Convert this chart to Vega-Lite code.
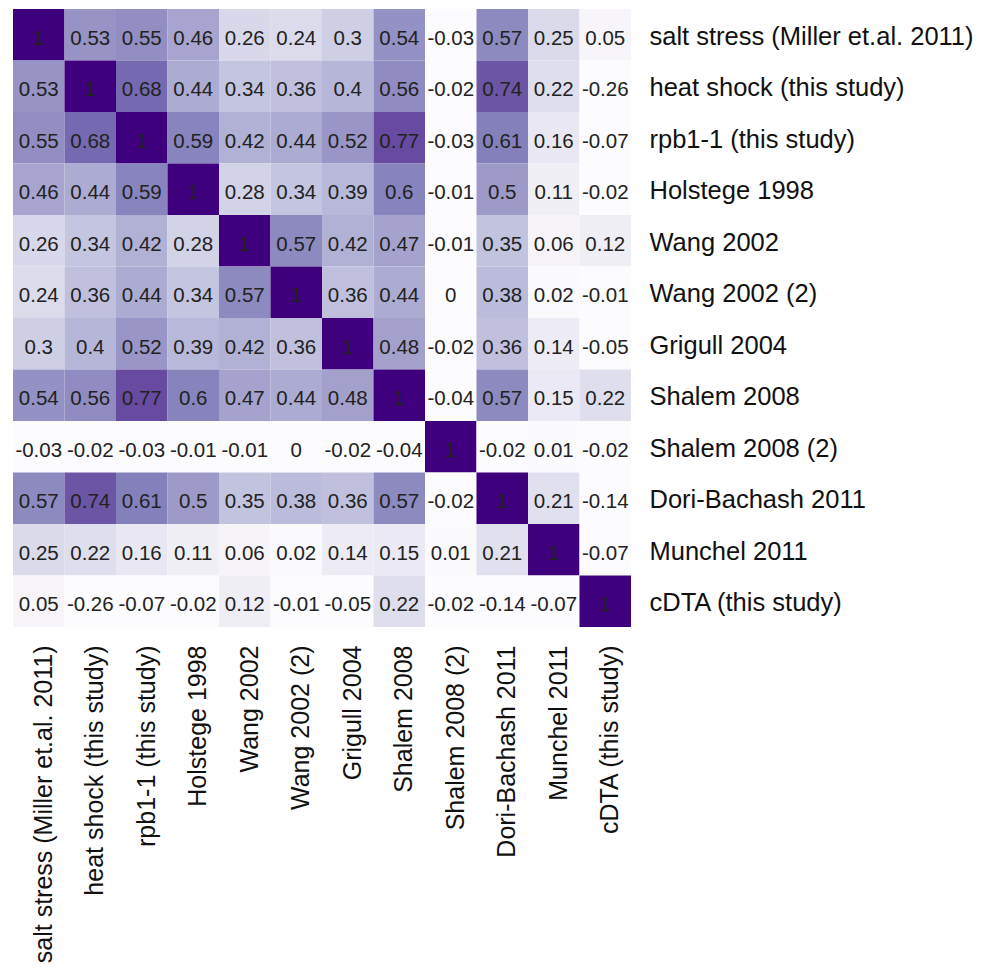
{
  "$schema": "https://vega.github.io/schema/vega-lite/v6.json",
  "width": 618,
  "height": 618,
  "padding": {"left": 13, "top": 9, "right": 5, "bottom": 5},
  "background": "white",
  "config": {"view": {"stroke": null}, "font": "Liberation Sans"},
  "datasets": {
    "corr": [
      {"r": "salt stress (Miller et.al. 2011)", "c": "salt stress (Miller et.al. 2011)", "v": 1},
      {"r": "salt stress (Miller et.al. 2011)", "c": "heat shock (this study)", "v": 0.53},
      {"r": "salt stress (Miller et.al. 2011)", "c": "rpb1-1 (this study)", "v": 0.55},
      {"r": "salt stress (Miller et.al. 2011)", "c": "Holstege 1998", "v": 0.46},
      {"r": "salt stress (Miller et.al. 2011)", "c": "Wang 2002", "v": 0.26},
      {"r": "salt stress (Miller et.al. 2011)", "c": "Wang 2002 (2)", "v": 0.24},
      {"r": "salt stress (Miller et.al. 2011)", "c": "Grigull 2004", "v": 0.3},
      {"r": "salt stress (Miller et.al. 2011)", "c": "Shalem 2008", "v": 0.54},
      {"r": "salt stress (Miller et.al. 2011)", "c": "Shalem 2008 (2)", "v": -0.03},
      {"r": "salt stress (Miller et.al. 2011)", "c": "Dori-Bachash 2011", "v": 0.57},
      {"r": "salt stress (Miller et.al. 2011)", "c": "Munchel 2011", "v": 0.25},
      {"r": "salt stress (Miller et.al. 2011)", "c": "cDTA (this study)", "v": 0.05},

      {"r": "heat shock (this study)", "c": "salt stress (Miller et.al. 2011)", "v": 0.53},
      {"r": "heat shock (this study)", "c": "heat shock (this study)", "v": 1},
      {"r": "heat shock (this study)", "c": "rpb1-1 (this study)", "v": 0.68},
      {"r": "heat shock (this study)", "c": "Holstege 1998", "v": 0.44},
      {"r": "heat shock (this study)", "c": "Wang 2002", "v": 0.34},
      {"r": "heat shock (this study)", "c": "Wang 2002 (2)", "v": 0.36},
      {"r": "heat shock (this study)", "c": "Grigull 2004", "v": 0.4},
      {"r": "heat shock (this study)", "c": "Shalem 2008", "v": 0.56},
      {"r": "heat shock (this study)", "c": "Shalem 2008 (2)", "v": -0.02},
      {"r": "heat shock (this study)", "c": "Dori-Bachash 2011", "v": 0.74},
      {"r": "heat shock (this study)", "c": "Munchel 2011", "v": 0.22},
      {"r": "heat shock (this study)", "c": "cDTA (this study)", "v": -0.26},

      {"r": "rpb1-1 (this study)", "c": "salt stress (Miller et.al. 2011)", "v": 0.55},
      {"r": "rpb1-1 (this study)", "c": "heat shock (this study)", "v": 0.68},
      {"r": "rpb1-1 (this study)", "c": "rpb1-1 (this study)", "v": 1},
      {"r": "rpb1-1 (this study)", "c": "Holstege 1998", "v": 0.59},
      {"r": "rpb1-1 (this study)", "c": "Wang 2002", "v": 0.42},
      {"r": "rpb1-1 (this study)", "c": "Wang 2002 (2)", "v": 0.44},
      {"r": "rpb1-1 (this study)", "c": "Grigull 2004", "v": 0.52},
      {"r": "rpb1-1 (this study)", "c": "Shalem 2008", "v": 0.77},
      {"r": "rpb1-1 (this study)", "c": "Shalem 2008 (2)", "v": -0.03},
      {"r": "rpb1-1 (this study)", "c": "Dori-Bachash 2011", "v": 0.61},
      {"r": "rpb1-1 (this study)", "c": "Munchel 2011", "v": 0.16},
      {"r": "rpb1-1 (this study)", "c": "cDTA (this study)", "v": -0.07},

      {"r": "Holstege 1998", "c": "salt stress (Miller et.al. 2011)", "v": 0.46},
      {"r": "Holstege 1998", "c": "heat shock (this study)", "v": 0.44},
      {"r": "Holstege 1998", "c": "rpb1-1 (this study)", "v": 0.59},
      {"r": "Holstege 1998", "c": "Holstege 1998", "v": 1},
      {"r": "Holstege 1998", "c": "Wang 2002", "v": 0.28},
      {"r": "Holstege 1998", "c": "Wang 2002 (2)", "v": 0.34},
      {"r": "Holstege 1998", "c": "Grigull 2004", "v": 0.39},
      {"r": "Holstege 1998", "c": "Shalem 2008", "v": 0.6},
      {"r": "Holstege 1998", "c": "Shalem 2008 (2)", "v": -0.01},
      {"r": "Holstege 1998", "c": "Dori-Bachash 2011", "v": 0.5},
      {"r": "Holstege 1998", "c": "Munchel 2011", "v": 0.11},
      {"r": "Holstege 1998", "c": "cDTA (this study)", "v": -0.02},

      {"r": "Wang 2002", "c": "salt stress (Miller et.al. 2011)", "v": 0.26},
      {"r": "Wang 2002", "c": "heat shock (this study)", "v": 0.34},
      {"r": "Wang 2002", "c": "rpb1-1 (this study)", "v": 0.42},
      {"r": "Wang 2002", "c": "Holstege 1998", "v": 0.28},
      {"r": "Wang 2002", "c": "Wang 2002", "v": 1},
      {"r": "Wang 2002", "c": "Wang 2002 (2)", "v": 0.57},
      {"r": "Wang 2002", "c": "Grigull 2004", "v": 0.42},
      {"r": "Wang 2002", "c": "Shalem 2008", "v": 0.47},
      {"r": "Wang 2002", "c": "Shalem 2008 (2)", "v": -0.01},
      {"r": "Wang 2002", "c": "Dori-Bachash 2011", "v": 0.35},
      {"r": "Wang 2002", "c": "Munchel 2011", "v": 0.06},
      {"r": "Wang 2002", "c": "cDTA (this study)", "v": 0.12},

      {"r": "Wang 2002 (2)", "c": "salt stress (Miller et.al. 2011)", "v": 0.24},
      {"r": "Wang 2002 (2)", "c": "heat shock (this study)", "v": 0.36},
      {"r": "Wang 2002 (2)", "c": "rpb1-1 (this study)", "v": 0.44},
      {"r": "Wang 2002 (2)", "c": "Holstege 1998", "v": 0.34},
      {"r": "Wang 2002 (2)", "c": "Wang 2002", "v": 0.57},
      {"r": "Wang 2002 (2)", "c": "Wang 2002 (2)", "v": 1},
      {"r": "Wang 2002 (2)", "c": "Grigull 2004", "v": 0.36},
      {"r": "Wang 2002 (2)", "c": "Shalem 2008", "v": 0.44},
      {"r": "Wang 2002 (2)", "c": "Shalem 2008 (2)", "v": 0},
      {"r": "Wang 2002 (2)", "c": "Dori-Bachash 2011", "v": 0.38},
      {"r": "Wang 2002 (2)", "c": "Munchel 2011", "v": 0.02},
      {"r": "Wang 2002 (2)", "c": "cDTA (this study)", "v": -0.01},

      {"r": "Grigull 2004", "c": "salt stress (Miller et.al. 2011)", "v": 0.3},
      {"r": "Grigull 2004", "c": "heat shock (this study)", "v": 0.4},
      {"r": "Grigull 2004", "c": "rpb1-1 (this study)", "v": 0.52},
      {"r": "Grigull 2004", "c": "Holstege 1998", "v": 0.39},
      {"r": "Grigull 2004", "c": "Wang 2002", "v": 0.42},
      {"r": "Grigull 2004", "c": "Wang 2002 (2)", "v": 0.36},
      {"r": "Grigull 2004", "c": "Grigull 2004", "v": 1},
      {"r": "Grigull 2004", "c": "Shalem 2008", "v": 0.48},
      {"r": "Grigull 2004", "c": "Shalem 2008 (2)", "v": -0.02},
      {"r": "Grigull 2004", "c": "Dori-Bachash 2011", "v": 0.36},
      {"r": "Grigull 2004", "c": "Munchel 2011", "v": 0.14},
      {"r": "Grigull 2004", "c": "cDTA (this study)", "v": -0.05},

      {"r": "Shalem 2008", "c": "salt stress (Miller et.al. 2011)", "v": 0.54},
      {"r": "Shalem 2008", "c": "heat shock (this study)", "v": 0.56},
      {"r": "Shalem 2008", "c": "rpb1-1 (this study)", "v": 0.77},
      {"r": "Shalem 2008", "c": "Holstege 1998", "v": 0.6},
      {"r": "Shalem 2008", "c": "Wang 2002", "v": 0.47},
      {"r": "Shalem 2008", "c": "Wang 2002 (2)", "v": 0.44},
      {"r": "Shalem 2008", "c": "Grigull 2004", "v": 0.48},
      {"r": "Shalem 2008", "c": "Shalem 2008", "v": 1},
      {"r": "Shalem 2008", "c": "Shalem 2008 (2)", "v": -0.04},
      {"r": "Shalem 2008", "c": "Dori-Bachash 2011", "v": 0.57},
      {"r": "Shalem 2008", "c": "Munchel 2011", "v": 0.15},
      {"r": "Shalem 2008", "c": "cDTA (this study)", "v": 0.22},

      {"r": "Shalem 2008 (2)", "c": "salt stress (Miller et.al. 2011)", "v": -0.03},
      {"r": "Shalem 2008 (2)", "c": "heat shock (this study)", "v": -0.02},
      {"r": "Shalem 2008 (2)", "c": "rpb1-1 (this study)", "v": -0.03},
      {"r": "Shalem 2008 (2)", "c": "Holstege 1998", "v": -0.01},
      {"r": "Shalem 2008 (2)", "c": "Wang 2002", "v": -0.01},
      {"r": "Shalem 2008 (2)", "c": "Wang 2002 (2)", "v": 0},
      {"r": "Shalem 2008 (2)", "c": "Grigull 2004", "v": -0.02},
      {"r": "Shalem 2008 (2)", "c": "Shalem 2008", "v": -0.04},
      {"r": "Shalem 2008 (2)", "c": "Shalem 2008 (2)", "v": 1},
      {"r": "Shalem 2008 (2)", "c": "Dori-Bachash 2011", "v": -0.02},
      {"r": "Shalem 2008 (2)", "c": "Munchel 2011", "v": 0.01},
      {"r": "Shalem 2008 (2)", "c": "cDTA (this study)", "v": -0.02},

      {"r": "Dori-Bachash 2011", "c": "salt stress (Miller et.al. 2011)", "v": 0.57},
      {"r": "Dori-Bachash 2011", "c": "heat shock (this study)", "v": 0.74},
      {"r": "Dori-Bachash 2011", "c": "rpb1-1 (this study)", "v": 0.61},
      {"r": "Dori-Bachash 2011", "c": "Holstege 1998", "v": 0.5},
      {"r": "Dori-Bachash 2011", "c": "Wang 2002", "v": 0.35},
      {"r": "Dori-Bachash 2011", "c": "Wang 2002 (2)", "v": 0.38},
      {"r": "Dori-Bachash 2011", "c": "Grigull 2004", "v": 0.36},
      {"r": "Dori-Bachash 2011", "c": "Shalem 2008", "v": 0.57},
      {"r": "Dori-Bachash 2011", "c": "Shalem 2008 (2)", "v": -0.02},
      {"r": "Dori-Bachash 2011", "c": "Dori-Bachash 2011", "v": 1},
      {"r": "Dori-Bachash 2011", "c": "Munchel 2011", "v": 0.21},
      {"r": "Dori-Bachash 2011", "c": "cDTA (this study)", "v": -0.14},

      {"r": "Munchel 2011", "c": "salt stress (Miller et.al. 2011)", "v": 0.25},
      {"r": "Munchel 2011", "c": "heat shock (this study)", "v": 0.22},
      {"r": "Munchel 2011", "c": "rpb1-1 (this study)", "v": 0.16},
      {"r": "Munchel 2011", "c": "Holstege 1998", "v": 0.11},
      {"r": "Munchel 2011", "c": "Wang 2002", "v": 0.06},
      {"r": "Munchel 2011", "c": "Wang 2002 (2)", "v": 0.02},
      {"r": "Munchel 2011", "c": "Grigull 2004", "v": 0.14},
      {"r": "Munchel 2011", "c": "Shalem 2008", "v": 0.15},
      {"r": "Munchel 2011", "c": "Shalem 2008 (2)", "v": 0.01},
      {"r": "Munchel 2011", "c": "Dori-Bachash 2011", "v": 0.21},
      {"r": "Munchel 2011", "c": "Munchel 2011", "v": 1},
      {"r": "Munchel 2011", "c": "cDTA (this study)", "v": -0.07},

      {"r": "cDTA (this study)", "c": "salt stress (Miller et.al. 2011)", "v": 0.05},
      {"r": "cDTA (this study)", "c": "heat shock (this study)", "v": -0.26},
      {"r": "cDTA (this study)", "c": "rpb1-1 (this study)", "v": -0.07},
      {"r": "cDTA (this study)", "c": "Holstege 1998", "v": -0.02},
      {"r": "cDTA (this study)", "c": "Wang 2002", "v": 0.12},
      {"r": "cDTA (this study)", "c": "Wang 2002 (2)", "v": -0.01},
      {"r": "cDTA (this study)", "c": "Grigull 2004", "v": -0.05},
      {"r": "cDTA (this study)", "c": "Shalem 2008", "v": 0.22},
      {"r": "cDTA (this study)", "c": "Shalem 2008 (2)", "v": -0.02},
      {"r": "cDTA (this study)", "c": "Dori-Bachash 2011", "v": -0.14},
      {"r": "cDTA (this study)", "c": "Munchel 2011", "v": -0.07},
      {"r": "cDTA (this study)", "c": "cDTA (this study)", "v": 1}
    ]
  },
  "data": {"name": "corr"},
  "encoding": {
    "x": {
      "field": "c", "type": "nominal", "sort": null, "title": null,
      "scale": {"paddingInner": 0, "paddingOuter": 0},
      "axis": {"orient": "bottom", "domain": false, "ticks": false, "labelAngle": 270,
               "labelFontSize": 25, "labelColor": "#111111", "labelPadding": 18, "labelOffset": 5,
               "labelFont": "Liberation Sans", "labelLimit": 0}
    },
    "y": {
      "field": "r", "type": "nominal", "sort": null, "title": null,
      "scale": {"paddingInner": 0, "paddingOuter": 0},
      "axis": {"orient": "right", "domain": false, "ticks": false,
               "labelFontSize": 25.5, "labelColor": "#111111", "labelPadding": 18, "labelOffset": 2,
               "labelFont": "Liberation Sans", "labelLimit": 0}
    }
  },
  "layer": [
    {
      "mark": {"type": "rect"},
      "encoding": {
        "color": {
          "field": "v", "type": "quantitative", "legend": null,
          "scale": {
            "domain": [0, 0.125, 0.25, 0.375, 0.5, 0.625, 0.75, 0.875, 1],
            "range": ["#fcfbfd", "#efedf5", "#dadaeb", "#bcbddc", "#9e9ac8", "#807dba", "#6a51a3", "#54278f", "#3f007d"],
            "clamp": true
          }
        }
      }
    },
    {
      "mark": {"type": "text", "fontSize": 20.5, "font": "Liberation Sans", "color": "#222222", "dy": 4},
      "encoding": {
        "text": {"field": "v", "type": "nominal"}
      }
    }
  ]
}
